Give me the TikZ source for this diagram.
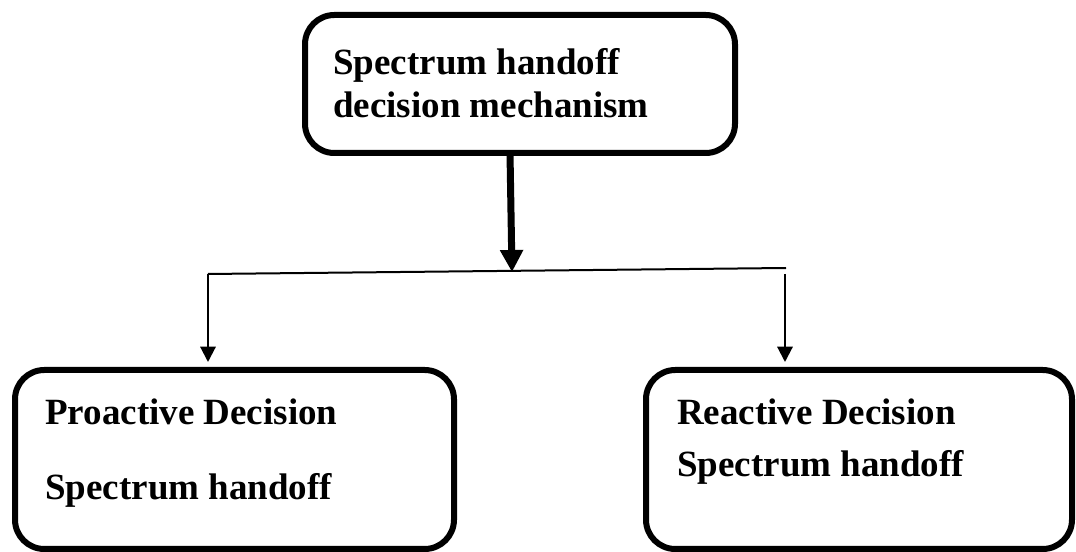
\documentclass[tikz,border=0pt]{standalone}
\usepackage{fontspec}
\setmainfont{Liberation Serif}
\usetikzlibrary{arrows.meta}
\begin{document}
\begin{tikzpicture}[x=0.75pt,y=-0.75pt,
  box/.style={draw, line width=4.5pt, rounded corners=22pt, inner sep=0pt},
  lbl/.style={anchor=base west, inner sep=0pt,
    font=\fontsize{27.75}{32}\selectfont\bfseries},
  thin/.style={line width=1.5pt},
  thinarrow/.style={line width=1.6pt, -{Triangle[length=11.5pt, width=11.5pt]}},
  thickarrow/.style={line width=5.25pt, -{Triangle[length=16.5pt, width=16.5pt]}}]
  \useasboundingbox[fill=white] (0,0) rectangle (1076,552);

  % the three boxes
  \node[box, minimum width=322.5pt, minimum height=103.5pt] (top) at (520,84) {};
  \node[box, minimum width=329.25pt, minimum height=134.25pt] (pro) at (234.5,459.5) {};
  \node[box, minimum width=319.5pt, minimum height=134.25pt] (rea) at (859,459.5) {};

  % box captions
  \node[lbl] (topa) at (333,75) {Spectrum handoff};
  \node[lbl] (topb) at (333,118) {decision mechanism};
  \node[lbl] (proa) at (45,425) {Proactive Decision};
  \node[lbl] (prob) at (45,500) {Spectrum handoff};
  \node[lbl] (reaa) at (677,425) {Reactive Decision};
  \node[lbl] (reab) at (677,477) {Spectrum handoff};

  % branching connector
  \coordinate (split) at (512,272);
  \coordinate (bl) at (208,274);
  \coordinate (br) at (786,268);
  \coordinate (rstart) at (785,274);
  \coordinate (ltip) at (208,362);
  \coordinate (rtip) at (785,362);

  \draw[thickarrow] (510,153) -- (split);
  \draw[thin] (bl) -- (br);
  \draw[thinarrow] (bl) -- (ltip);
  \draw[thinarrow] (rstart) -- (rtip);
\end{tikzpicture}
\end{document}
